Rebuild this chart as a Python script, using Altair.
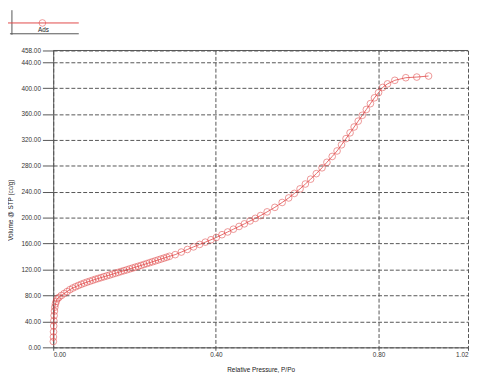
import altair as alt
import pandas as pd

# Relative pressure P/Po
pressure = [
    0.0003, 0.0005, 0.0008, 0.0012, 0.0016, 0.0022, 0.0030, 0.0040, 0.0055, 0.0075, 0.0100,
    0.014, 0.020, 0.027, 0.034, 0.041, 0.048, 0.055, 0.062, 0.069, 0.076, 0.083, 0.090,
    0.097, 0.104, 0.111, 0.118, 0.125, 0.132, 0.139, 0.146, 0.153, 0.160, 0.167, 0.174,
    0.181, 0.188, 0.195, 0.202, 0.209, 0.216, 0.223, 0.230, 0.237, 0.244, 0.251, 0.258,
    0.265, 0.272, 0.279, 0.286,
    0.300, 0.315, 0.330, 0.345, 0.360, 0.374, 0.388, 0.401, 0.415, 0.429, 0.443, 0.457,
    0.470, 0.484, 0.497,
    0.510, 0.526, 0.545, 0.563, 0.579, 0.593, 0.607, 0.620, 0.633, 0.647, 0.661, 0.673,
    0.686, 0.698, 0.709, 0.720, 0.730, 0.740, 0.750, 0.760, 0.770, 0.780, 0.790, 0.800,
    0.810, 0.822, 0.840, 0.867, 0.894, 0.923,
]
# Volume @ STP (cc/g)
volume = [
    9, 16, 24, 33, 41, 49, 56, 62, 67, 71, 75,
    77, 80, 83, 86, 89, 91.5, 93.5, 95.5, 97.3, 99, 100.6, 102,
    103.5, 105, 106.3, 107.6, 109, 110.3, 111.6, 113, 114.3, 115.6, 117, 118.3,
    119.6, 121, 122.3, 123.7, 125, 126.4, 127.8, 129.2, 130.6, 132, 133.4, 134.8,
    136.2, 137.6, 139, 140.5,
    143, 147, 151, 155, 158.8, 162.3, 166, 169.5, 173.8, 178, 182.3, 186.5,
    190.5, 195, 199,
    203.3, 209, 216, 223.5, 230.5, 237.5, 244.5, 252, 259.5, 268, 277, 285.5,
    294.5, 303, 312.5, 322, 331, 340, 349, 358, 367, 376, 385, 393,
    401, 406.5, 412, 416, 417, 418.6,
]

x_ticks = [0.0, 0.4, 0.8, 1.02]
y_ticks = [0, 40, 80, 120, 160, 200, 240, 280, 320, 360, 400, 440, 458]

df = pd.DataFrame({"p": pressure, "v": volume})

RED = "#e04848"
GRAY = "#555555"
FONT = "Liberation Sans"

x_enc = alt.X(
    "p:Q",
    scale=alt.Scale(domain=[0, 1.02], nice=False),
    axis=alt.Axis(
        title="Relative Pressure, P/Po", values=x_ticks, format=".2f",
        grid=True, gridDash=[4, 2], gridColor=GRAY, gridWidth=1,
        tickSize=3, tickColor=GRAY, domainColor=GRAY,
        labelFontSize=6.5, labelColor="#333333", labelFont=FONT,
        labelOverlap=False, labelPadding=1,
        titleFontSize=6.5, titleFontWeight="normal", titleColor="#222222",
        titleFont=FONT, titleX=211, titleY=23, titleBaseline="middle",
        titleAlign="center",
    ),
)
y_enc = alt.Y(
    "v:Q",
    scale=alt.Scale(domain=[0, 458], nice=False),
    axis=alt.Axis(
        title="Volume @ STP (cc/g)", values=y_ticks, format=".2f",
        grid=True, gridDash=[4, 2], gridColor=GRAY, gridWidth=1,
        tickSize=11, tickColor=GRAY, domainColor=GRAY,
        labelFontSize=6.5, labelColor="#333333", labelFont=FONT,
        labelOverlap=False, labelBound=False, labelPadding=2,
        titleFontSize=6.5, titleFontWeight="normal", titleColor="#222222",
        titleFont=FONT, titleX=-43, titleY=162, titleBaseline="middle",
        titleAlign="center", titleAngle=270,
    ),
)

line = alt.Chart(df).mark_line(color=RED, strokeWidth=0.8).encode(x=x_enc, y=y_enc)
points = alt.Chart(df).mark_point(
    shape="circle", filled=False, color=RED, size=46, strokeWidth=0.8
).encode(x=x_enc, y=y_enc)

one = alt.Data(values=[{}])
top_border = alt.Chart(one).mark_rule(color=GRAY, strokeWidth=1).encode(
    x=alt.value(0), x2=alt.value(422), y=alt.value(0)
)
# legend box (top-left)
leg_v = alt.Chart(one).mark_rule(color=GRAY, strokeWidth=1).encode(
    x=alt.value(-42), y=alt.value(-41), y2=alt.value(-16)
)
leg_h = alt.Chart(one).mark_rule(color=GRAY, strokeWidth=1).encode(
    x=alt.value(-44), x2=alt.value(26), y=alt.value(-17)
)
leg_red = alt.Chart(one).mark_rule(color=RED, strokeWidth=1).encode(
    x=alt.value(-46), x2=alt.value(26), y=alt.value(-28)
)
leg_pt = alt.Chart(one).mark_point(
    shape="circle", filled=False, color=RED, size=46, strokeWidth=0.8
).encode(x=alt.value(-11), y=alt.value(-28))
leg_txt = alt.Chart(one).mark_text(
    text="Ads", fontSize=6.5, font=FONT, color="#222222", baseline="middle"
).encode(x=alt.value(-10), y=alt.value(-20.5))

chart = alt.layer(
    line, points, top_border, leg_v, leg_h, leg_red, leg_pt, leg_txt
).properties(
    width=422, height=302,
    padding={"left": 46, "top": 40, "right": 1, "bottom": 30},
    autosize="none",
).configure_view(stroke=None).configure_axis(labelOverlap=False)

chart.save("out.html", embed_options={"renderer": "svg", "actions": False})
